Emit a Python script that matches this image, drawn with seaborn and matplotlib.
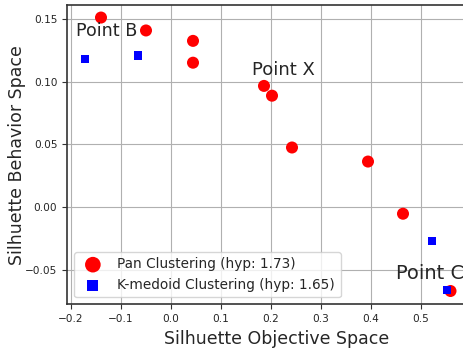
import matplotlib
matplotlib.use("Agg")
import matplotlib.pyplot as plt
import seaborn as sns

# Pan clustering results
pan_obj = [-0.140, -0.050, 0.044, 0.044, 0.186, 0.202, 0.242, 0.394, 0.464, 0.559]
pan_beh = [0.151, 0.1407, 0.1324, 0.115, 0.0965, 0.0887, 0.0474, 0.0362, -0.0054, -0.067]

# K-medoid clustering results
km_obj = [-0.172, -0.066, 0.522, 0.552]
km_beh = [0.118, 0.1207, -0.0269, -0.0664]

pan_label = "Pan Clustering (hyp: 1.73)"
km_label = "K-medoid Clustering (hyp: 1.65)"

point_names = ["Point B", "Point X", "Point C"]
point_pos = [(-0.1894, 0.1361), (0.162, 0.105), (0.451, -0.0578)]
point_size = [12.6, 13, 14]

sns.set_style("whitegrid")
plt.rcParams['font.family'] = ['DejaVu Sans']

fig = plt.figure(figsize=(4.64, 3.5), dpi=100)
# axes runs past the right edge, like the reference crop
ax = fig.add_axes([67 / 464, 45.7 / 350, 420 / 464, 299.3 / 350])

sns.scatterplot(x=pan_obj, y=pan_beh, color='red', marker='o', s=75,
                edgecolor='none', label=pan_label, ax=ax, zorder=3)
sns.scatterplot(x=km_obj, y=km_beh, color='blue', marker='s', s=36,
                edgecolor='none', label=km_label, ax=ax, zorder=3)

for name, (px, py), fs in zip(point_names, point_pos, point_size):
    ax.text(px, py, name, fontsize=fs, zorder=4)

ax.set_xlim(-0.208, 0.632)
ax.set_ylim(-0.0776, 0.161)
ax.set_xticks([-0.2, -0.1, 0.0, 0.1, 0.2, 0.3, 0.4, 0.5])
ax.set_yticks([-0.05, 0.0, 0.05, 0.10, 0.15])
ax.tick_params(axis='both', labelsize=7.6, length=3.5, width=0.8, color='#333333', left=True, bottom=True)
ax.grid(True, color='#b0b0b0', linewidth=0.8)
for sp in ax.spines.values():
    sp.set_color('#333333')
    sp.set_linewidth(1.2)
ax.spines['right'].set_visible(False)

ax.set_xlabel("Silhuette Objective Space", fontsize=12.5)
ax.set_ylabel("Silhuette Behavior Space", fontsize=12.5)
ax.yaxis.set_label_coords(-0.098, 0.5)

ax.legend(loc='lower left', fontsize=9.8, markerscale=1.3, frameon=True)

fig.savefig("out.png", dpi=100)
